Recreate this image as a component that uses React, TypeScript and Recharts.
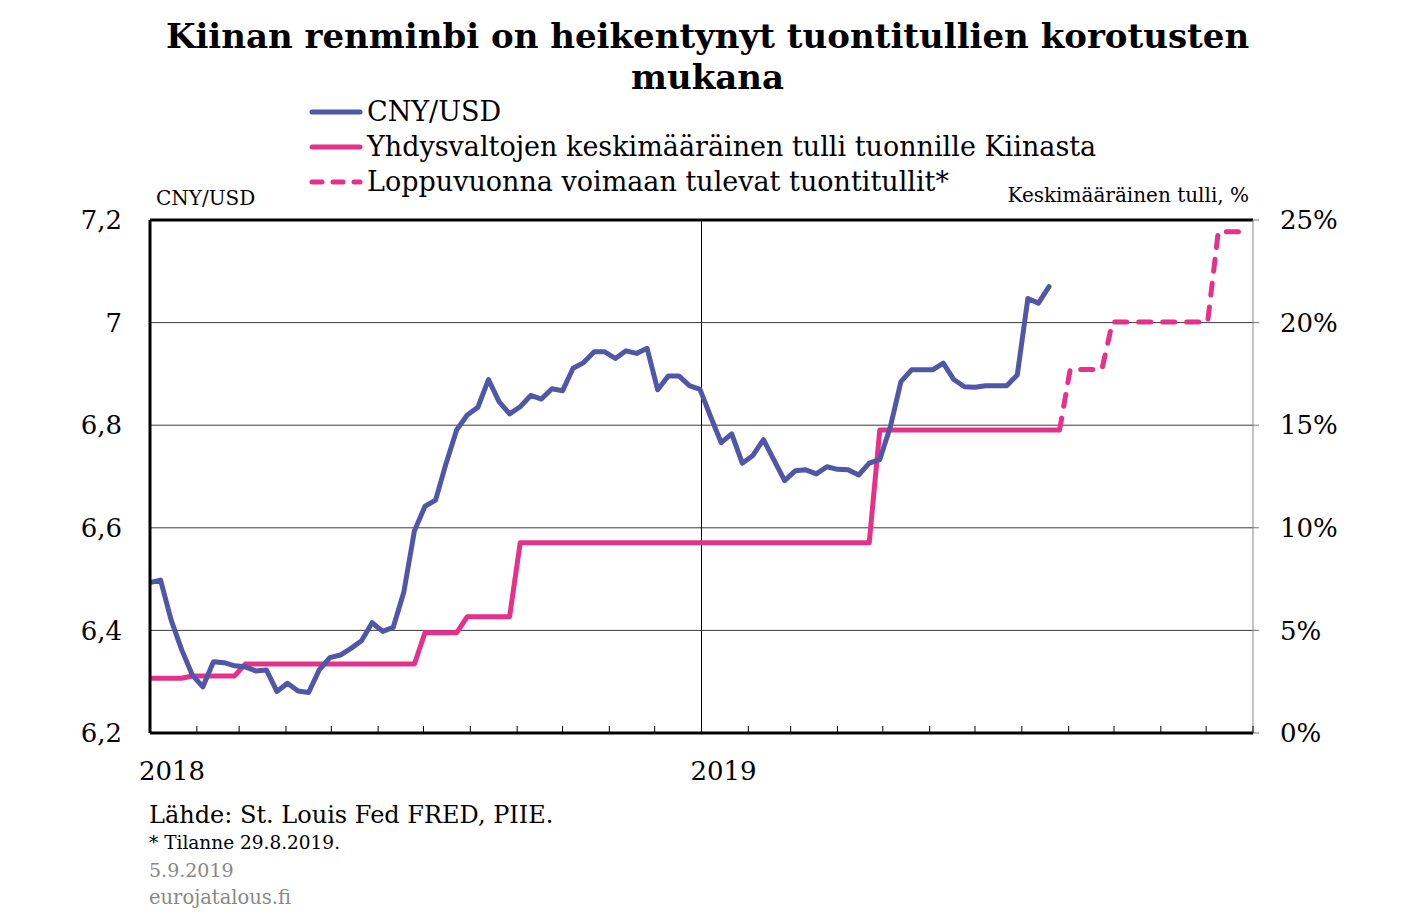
import { LineChart, Line, XAxis, YAxis, ReferenceLine } from 'recharts';

// weekly CNY/USD fixes, first week of 2018 onwards
const cnyValues = [
  6.493, 6.498, 6.42, 6.362, 6.313, 6.29, 6.339, 6.337, 6.331, 6.329,
  6.321, 6.323, 6.281, 6.297, 6.282, 6.279, 6.323, 6.347, 6.352, 6.365,
  6.38, 6.415, 6.398, 6.406, 6.475, 6.594, 6.642, 6.654, 6.726, 6.791,
  6.82, 6.835, 6.889, 6.846, 6.822, 6.836, 6.858, 6.851, 6.871, 6.867,
  6.911, 6.922, 6.943, 6.943, 6.93, 6.945, 6.94, 6.95, 6.869, 6.896,
  6.896, 6.877, 6.87, 6.817, 6.766, 6.783, 6.726, 6.741, 6.772, 6.732,
  6.692, 6.711, 6.713, 6.705, 6.719, 6.714, 6.713, 6.703, 6.726, 6.733,
  6.797, 6.885, 6.908, 6.908, 6.908, 6.921, 6.889, 6.875, 6.874, 6.877,
  6.877, 6.877, 6.898, 7.047, 7.038, 7.07,
];

// average US tariff on Chinese imports, % (week index -> value)
const tariffWeeks = [0, 3, 4, 8, 9, 25, 26, 29, 30, 34, 35, 68, 69, 86];
const tariffValues = [2.67, 2.67, 2.78, 2.78, 3.36, 3.36, 4.89, 4.89, 5.67, 5.67, 9.27, 9.27, 14.77, 14.77];

// tariffs announced for the rest of the year
const plannedWeeks = [86, 87, 90, 91, 100, 101, 103];
const plannedValues = [14.77, 17.72, 17.72, 20.03, 20.03, 24.43, 24.43];

const monthTicks = [0, 31, 59, 90, 120, 151, 181, 212, 243, 273, 304, 334, 365, 396, 424, 455, 485, 516, 546, 577, 608, 638, 669, 699, 730];
const yearLabels: Record<number, string> = { 0: '2018', 365: '2019' };
const cnyTicks = [6.2, 6.4, 6.6, 6.8, 7, 7.2];
const pctTicks = [0, 5, 10, 15, 20, 25];

const BLUE = '#4F57A6';
const PINK = '#E5318A';
const FONT = '"DejaVu Serif", "Liberation Serif", serif';

const cnyData = cnyValues.map((v, i) => ({ day: i * 7, cny: v }));
const tariffData = tariffWeeks.map((w, i) => ({ day: w * 7, tariff: tariffValues[i] }));
const plannedData = plannedWeeks.map((w, i) => ({ day: w * 7, planned: plannedValues[i] }));

const fmtCny = (v: number) => String(v).replace('.', ',');

function MonthTick(props: any) {
  const { x, y, payload } = props;
  const label = yearLabels[payload.value];
  return (
    <g>
      <line x1={x} x2={x} y1={y} y2={y - 7} stroke="#000" strokeWidth={1} />
      {label && (
        <text x={x + 22} y={y + 47} textAnchor="middle" fontSize={26} fontFamily={FONT} fill="#000">
          {label}
        </text>
      )}
    </g>
  );
}

function LegendRow({ dashed, label }: { dashed?: boolean; label: string }) {
  return (
    <div style={{ display: 'flex', alignItems: 'center', height: 35 }}>
      <svg width={56} height={10} style={{ marginRight: 3 }}>
        <line
          x1={4}
          x2={52}
          y1={5}
          y2={5}
          stroke={label === 'CNY/USD' ? BLUE : PINK}
          strokeWidth={5}
          strokeLinecap="round"
          strokeDasharray={dashed ? '10 11' : undefined}
        />
      </svg>
      <span>{label}</span>
    </div>
  );
}

export default function App() {
  return (
    <div style={{ position: 'absolute', left: 0, top: 0, width: 1415, height: 924, background: '#fff', fontFamily: FONT }}>
      <div style={{ position: 'absolute', left: 0, top: 16, width: 1415, textAlign: 'center', fontWeight: 'bold', fontSize: 34, lineHeight: '41px' }}>
        Kiinan renminbi on heikentynyt tuontitullien korotusten
        <br />
        mukana
      </div>
      <div style={{ position: 'absolute', left: 308, top: 94, fontSize: 27, lineHeight: '35px' }}>
        <LegendRow label="CNY/USD" />
        <LegendRow label="Yhdysvaltojen keskimääräinen tulli tuonnille Kiinasta" />
        <LegendRow dashed label="Loppuvuonna voimaan tulevat tuontitullit*" />
      </div>
      <div style={{ position: 'absolute', left: 156, top: 186, fontSize: 20 }}>CNY/USD</div>
      <div style={{ position: 'absolute', right: 1415 - 1249, top: 183, fontSize: 20 }}>Keskimääräinen tulli, %</div>

      <div style={{ position: 'absolute', left: 0, top: 0 }}>
        <LineChart width={1415} height={924} margin={{ top: 220, right: 0, bottom: 131, left: 0 }}>
          <XAxis
            type="number"
            dataKey="day"
            domain={[0, 730]}
            ticks={monthTicks}
            interval={0}
            tick={<MonthTick />}
            tickLine={false}
            tickSize={0}
            tickMargin={0}
            height={60}
            axisLine={{ stroke: '#000', strokeWidth: 3 }}
            allowDataOverflow
          />
          <YAxis
            yAxisId="cny"
            orientation="left"
            domain={[6.2, 7.2]}
            ticks={cnyTicks}
            tickFormatter={fmtCny}
            width={150}
            tickLine={false}
            tickSize={0}
            tickMargin={28}
            tick={{ fill: '#000', fontSize: 26, fontFamily: FONT }}
            axisLine={{ stroke: '#000', strokeWidth: 3 }}
            allowDataOverflow
          />
          <YAxis
            yAxisId="pct"
            orientation="right"
            domain={[0, 25]}
            ticks={pctTicks}
            tickFormatter={(v: number) => `${v}%`}
            width={162}
            tickLine={{ stroke: '#777' }}
            tickSize={6}
            tickMargin={21}
            tick={{ fill: '#000', fontSize: 26, fontFamily: FONT }}
            axisLine={{ stroke: '#888', strokeWidth: 1 }}
            allowDataOverflow
          />
          {cnyTicks.slice(1, -1).map((t) => (
            <ReferenceLine key={t} yAxisId="cny" y={t} stroke="#3a3a3a" strokeWidth={1} />
          ))}
          <ReferenceLine yAxisId="cny" y={7.2} stroke="#000" strokeWidth={3} />
          <ReferenceLine yAxisId="cny" x={365} stroke="#000" strokeWidth={1} />
          <Line
            yAxisId="pct"
            data={tariffData}
            dataKey="tariff"
            type="linear"
            stroke={PINK}
            strokeWidth={5}
            strokeLinejoin="round"
            dot={false}
            isAnimationActive={false}
          />
          <Line
            yAxisId="pct"
            data={plannedData}
            dataKey="planned"
            type="linear"
            stroke={PINK}
            strokeWidth={5}
            strokeDasharray="12 12"
            strokeLinecap="round"
            dot={false}
            isAnimationActive={false}
          />
          <Line
            yAxisId="cny"
            data={cnyData}
            dataKey="cny"
            type="linear"
            stroke={BLUE}
            strokeWidth={5}
            strokeLinejoin="round"
            strokeLinecap="round"
            dot={false}
            isAnimationActive={false}
          />
        </LineChart>
      </div>

      <div style={{ position: 'absolute', left: 149, top: 801, fontSize: 24 }}>Lähde: St. Louis Fed FRED, PIIE.</div>
      <div style={{ position: 'absolute', left: 149, top: 832, fontSize: 18.5 }}>* Tilanne 29.8.2019.</div>
      <div style={{ position: 'absolute', left: 149, top: 859, fontSize: 19, color: '#888' }}>5.9.2019</div>
      <div style={{ position: 'absolute', left: 149, top: 886, fontSize: 19.5, color: '#888' }}>eurojatalous.fi</div>
    </div>
  );
}
